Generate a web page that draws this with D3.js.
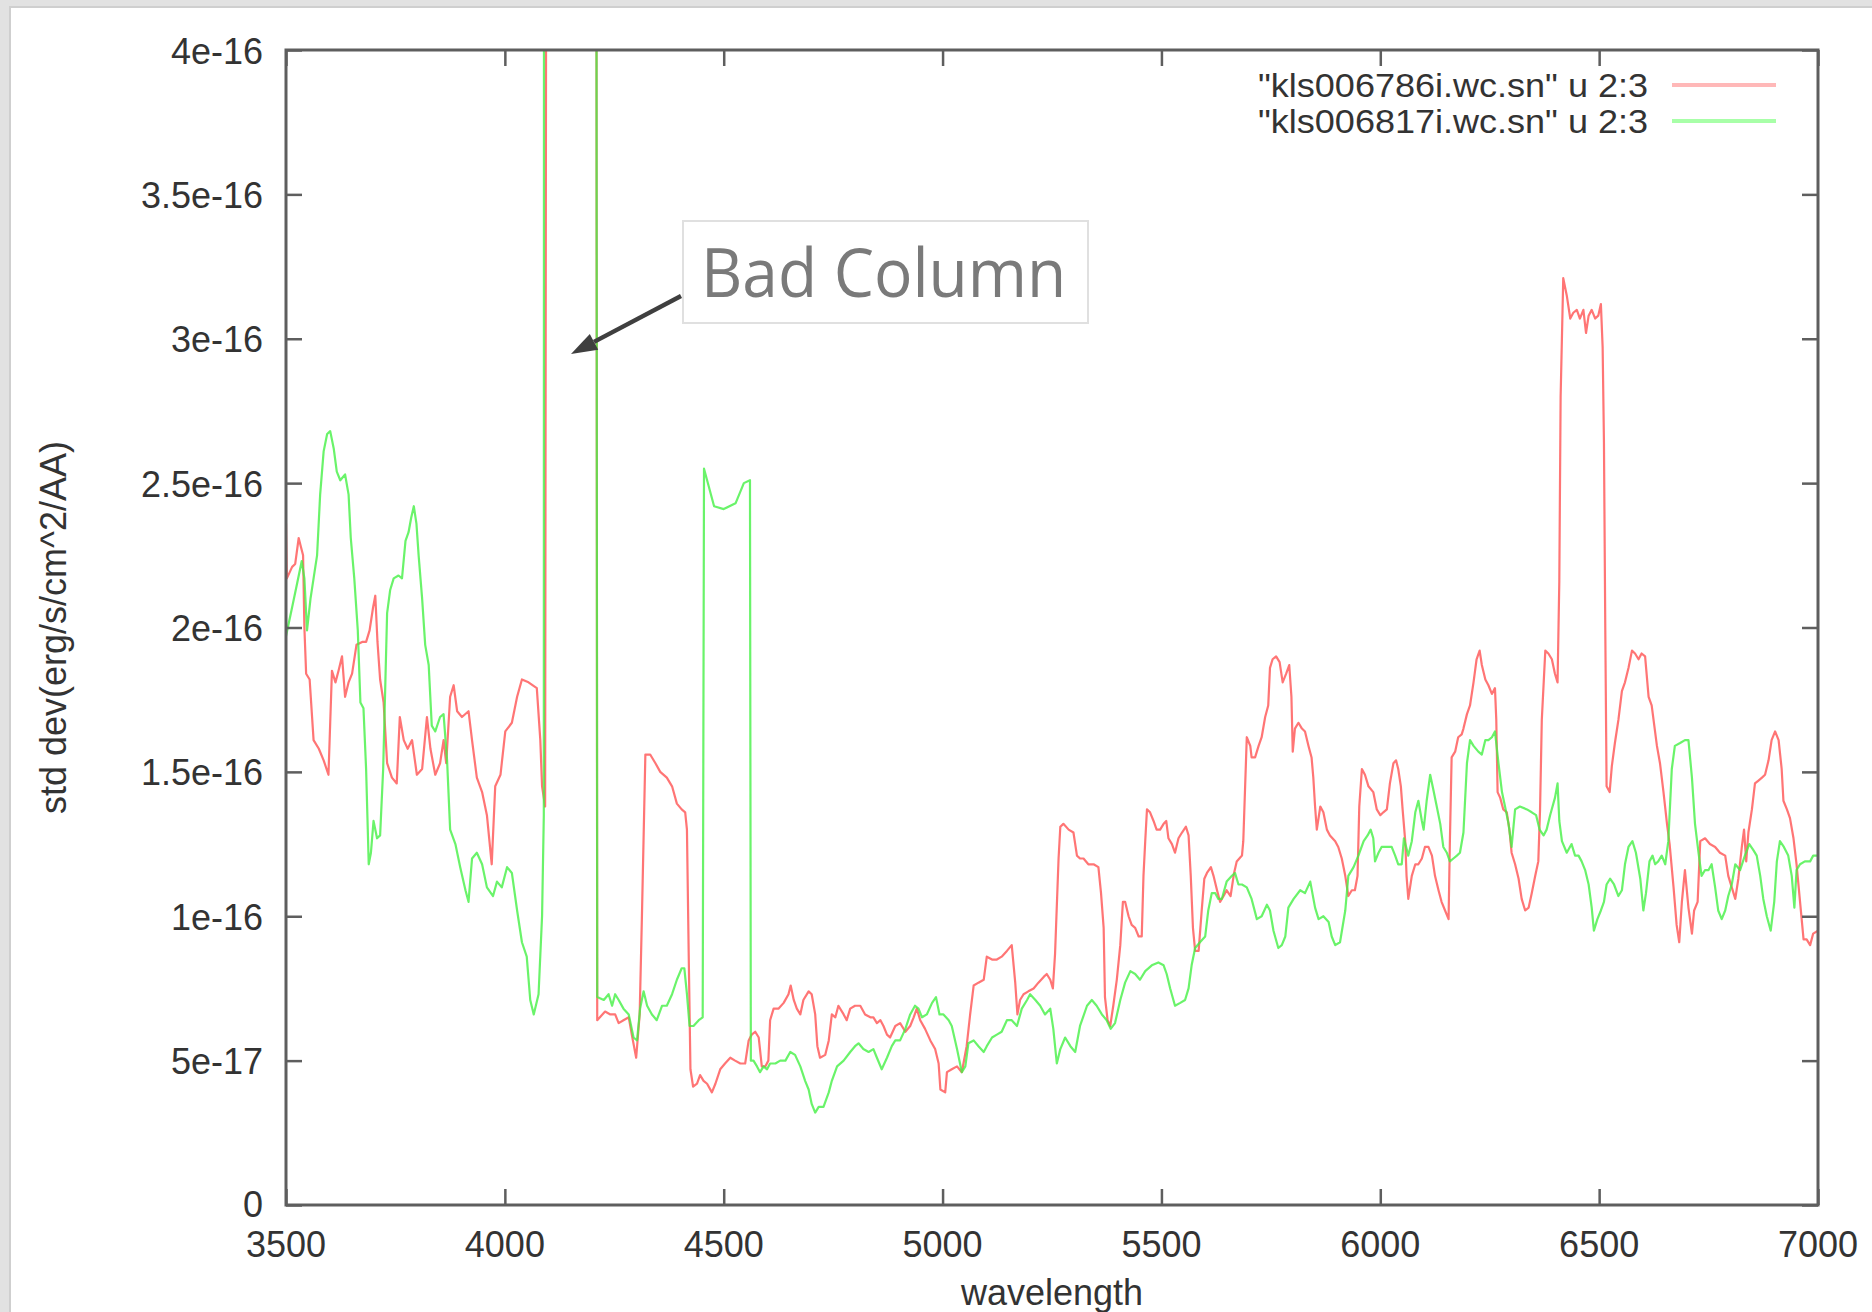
<!DOCTYPE html>
<html>
<head>
<meta charset="utf-8">
<script src="https://cdn.jsdelivr.net/npm/d3@7"></script>
<style>
  html, body { margin: 0; padding: 0; background: #e2e2e2; }
  svg { display: block; }
</style>
</head>
<body>
<div id="chart"></div>
<script>
// Données (flux en unités de 1e-16 erg/s/cm^2/AA)
const FLUX_UNIT = 1e-16;

const redWave = [3500,3502,3514,3521,3529,3534,3539,3542,3546,3554,3563,3575,3586,3597,3601,3605,3613,3620,3628,3635,3643,3651,3661,3674,3683,3691,3699,3704,3709,3715,3723,3731,3742,3753,3760,3769,3778,3788,3799,3811,3822,3830,3841,3852,3860,3866,3875,3883,3891,3902,3917,3925,3936,3948,3959,3970,3978,3990,4001,4016,4028,4039,4054,4073,4081,4085,4092,4098,4207,4211,4229,4241,4252,4260,4271,4283,4290,4300,4308,4313,4321,4332,4344,4355,4370,4382,4393,4404,4412,4416,4420,4424,4430,4439,4446,4454,4462,4473,4481,4492,4503,4515,4526,4538,4549,4557,4564,4572,4580,4587,4595,4602,4606,4614,4625,4637,4648,4653,4660,4667,4675,4682,4694,4701,4709,4714,4720,4732,4740,4747,4755,4762,4774,4781,4789,4800,4812,4823,4835,4842,4850,4858,4865,4873,4880,4892,4903,4915,4926,4934,4941,4949,4960,4972,4983,4991,4995,5006,5010,5021,5033,5044,5055,5063,5071,5082,5094,5101,5113,5124,5135,5147,5158,5166,5171,5177,5185,5196,5208,5219,5231,5238,5246,5252,5257,5265,5269,5276,5288,5299,5307,5314,5322,5333,5345,5356,5362,5368,5371,5377,5383,5390,5398,5406,5412,5417,5425,5432,5440,5448,5455,5459,5463,5467,5474,5482,5489,5497,5505,5511,5516,5524,5531,5539,5547,5556,5562,5567,5572,5577,5585,5592,5598,5604,5613,5619,5627,5634,5642,5649,5658,5666,5672,5684,5687,5691,5695,5703,5706,5714,5722,5729,5737,5744,5748,5754,5762,5770,5777,5785,5792,5797,5800,5805,5813,5821,5828,5836,5843,5847,5851,5855,5863,5870,5878,5885,5897,5904,5912,5920,5927,5935,5942,5948,5952,5958,5965,5973,5984,5992,6000,6007,6015,6022,6030,6036,6041,6047,6051,6057,6060,6064,6072,6080,6087,6095,6102,6110,6118,6125,6133,6140,6148,6156,6159,6163,6171,6178,6186,6190,6198,6205,6213,6220,6227,6232,6240,6247,6255,6262,6265,6268,6274,6281,6289,6295,6300,6308,6316,6323,6331,6339,6346,6354,6361,6365,6369,6377,6384,6392,6399,6405,6409,6412,6418,6426,6434,6441,6449,6456,6464,6470,6476,6483,6491,6498,6504,6508,6511,6514,6517,6524,6529,6536,6544,6552,6559,6567,6575,6582,6590,6597,6605,6613,6620,6632,6639,6647,6655,6661,6670,6677,6683,6689,6696,6704,6712,6717,6725,6731,6742,6753,6765,6776,6788,6795,6803,6811,6818,6826,6831,6836,6841,6849,6856,6864,6872,6879,6887,6894,6902,6910,6917,6921,6929,6936,6944,6951,6959,6967,6974,6982,6989,7000];
const redFlux = [2.36,2.17,2.21,2.22,2.31,2.28,2.25,2.00,1.84,1.82,1.61,1.58,1.54,1.49,1.67,1.85,1.81,1.85,1.90,1.76,1.81,1.84,1.94,1.95,1.95,1.99,2.07,2.11,1.95,1.82,1.74,1.53,1.48,1.46,1.69,1.61,1.58,1.61,1.49,1.51,1.69,1.58,1.49,1.53,1.61,1.53,1.76,1.80,1.71,1.69,1.71,1.61,1.48,1.43,1.35,1.18,1.45,1.49,1.64,1.67,1.76,1.82,1.81,1.79,1.61,1.45,1.38,9,9,0.64,0.67,0.66,0.66,0.63,0.64,0.65,0.59,0.51,0.66,0.99,1.56,1.56,1.53,1.50,1.48,1.45,1.39,1.37,1.36,1.30,0.87,0.47,0.41,0.42,0.45,0.43,0.42,0.39,0.42,0.47,0.49,0.51,0.50,0.49,0.49,0.57,0.59,0.60,0.58,0.48,0.48,0.50,0.64,0.68,0.68,0.70,0.73,0.76,0.71,0.68,0.66,0.71,0.74,0.73,0.66,0.55,0.51,0.52,0.57,0.66,0.65,0.69,0.66,0.64,0.68,0.69,0.69,0.66,0.65,0.65,0.63,0.64,0.62,0.59,0.58,0.62,0.63,0.60,0.62,0.65,0.68,0.64,0.61,0.57,0.54,0.49,0.40,0.39,0.46,0.47,0.48,0.46,0.55,0.66,0.76,0.77,0.78,0.86,0.85,0.85,0.86,0.88,0.90,0.77,0.66,0.71,0.73,0.74,0.75,0.77,0.79,0.80,0.78,0.75,0.87,1.20,1.31,1.32,1.30,1.29,1.21,1.20,1.20,1.18,1.18,1.17,1.08,0.96,0.72,0.64,0.62,0.69,0.78,0.90,1.05,1.05,1.00,0.97,0.96,0.93,0.93,1.14,1.26,1.37,1.36,1.33,1.30,1.30,1.32,1.33,1.27,1.25,1.22,1.27,1.29,1.31,1.28,1.14,0.96,0.88,0.88,1.02,1.13,1.15,1.17,1.14,1.09,1.05,1.07,1.09,1.07,1.15,1.19,1.21,1.26,1.44,1.62,1.59,1.55,1.55,1.59,1.62,1.69,1.73,1.86,1.89,1.90,1.88,1.81,1.84,1.87,1.76,1.57,1.65,1.67,1.65,1.64,1.59,1.55,1.48,1.38,1.30,1.38,1.36,1.30,1.28,1.26,1.24,1.20,1.14,1.07,1.09,1.09,1.14,1.38,1.51,1.49,1.45,1.43,1.37,1.35,1.36,1.37,1.46,1.53,1.54,1.51,1.45,1.37,1.26,1.14,1.06,1.14,1.18,1.18,1.20,1.24,1.24,1.21,1.14,1.09,1.05,1.02,0.99,1.26,1.55,1.57,1.62,1.63,1.65,1.70,1.73,1.81,1.89,1.92,1.87,1.82,1.80,1.77,1.79,1.68,1.43,1.41,1.37,1.36,1.30,1.22,1.18,1.13,1.06,1.02,1.03,1.08,1.14,1.19,1.37,1.68,1.92,1.91,1.89,1.84,1.81,2.16,2.80,3.21,3.15,3.07,3.09,3.10,3.07,3.10,3.02,3.08,3.10,3.07,3.08,3.12,2.97,2.64,2.00,1.45,1.43,1.52,1.60,1.68,1.78,1.81,1.86,1.92,1.91,1.89,1.91,1.90,1.76,1.73,1.59,1.53,1.43,1.32,1.25,1.10,0.97,0.91,1.05,1.16,1.03,0.94,1.02,1.05,1.26,1.27,1.25,1.24,1.22,1.21,1.14,1.10,1.06,1.13,1.24,1.30,1.19,1.29,1.37,1.46,1.47,1.48,1.49,1.54,1.61,1.64,1.61,1.51,1.40,1.37,1.34,1.27,1.18,1.05,0.92,0.92,0.90,0.94,0.95];

const greenWave = [3500,3514,3525,3536,3542,3548,3556,3563,3571,3578,3586,3594,3601,3609,3616,3624,3635,3643,3648,3656,3664,3670,3677,3683,3689,3694,3700,3708,3715,3722,3727,3731,3738,3746,3757,3765,3773,3780,3786,3792,3798,3803,3811,3818,3826,3833,3841,3852,3860,3868,3875,3887,3898,3910,3917,3925,3936,3948,3959,3973,3982,3993,4005,4016,4028,4039,4050,4058,4066,4077,4085,4089,4090,4207,4211,4226,4237,4245,4252,4260,4271,4283,4294,4302,4309,4317,4325,4336,4347,4359,4370,4382,4393,4404,4410,4416,4422,4431,4443,4452,4455,4478,4500,4527,4546,4560,4562,4568,4576,4583,4591,4599,4606,4618,4629,4641,4652,4663,4675,4686,4694,4701,4709,4717,4728,4740,4747,4759,4774,4789,4800,4808,4819,4831,4842,4850,4861,4873,4884,4892,4903,4915,4926,4937,4945,4953,4964,4976,4985,4993,5002,5014,5021,5033,5044,5052,5059,5071,5082,5094,5101,5113,5124,5135,5147,5158,5170,5181,5193,5200,5212,5223,5234,5246,5253,5261,5269,5280,5292,5303,5314,5330,5341,5352,5364,5375,5384,5394,5406,5417,5429,5440,5451,5463,5478,5493,5505,5512,5520,5531,5543,5554,5562,5569,5577,5588,5600,5607,5615,5623,5630,5638,5649,5661,5668,5676,5684,5695,5706,5718,5729,5741,5748,5756,5767,5775,5783,5790,5802,5817,5828,5840,5851,5859,5870,5882,5889,5897,5908,5920,5927,5939,5950,5962,5971,5978,5984,5988,5996,6003,6015,6026,6034,6041,6049,6054,6064,6072,6080,6087,6095,6099,6106,6114,6121,6129,6137,6144,6152,6159,6167,6175,6182,6190,6198,6205,6213,6224,6232,6240,6247,6255,6262,6270,6278,6285,6293,6300,6308,6319,6335,6346,6356,6364,6373,6380,6388,6399,6405,6409,6415,6426,6437,6445,6453,6460,6468,6476,6483,6488,6496,6504,6511,6517,6525,6534,6544,6552,6559,6567,6576,6584,6594,6601,6607,6615,6622,6628,6635,6643,6651,6658,6666,6673,6685,6696,6704,6712,6719,6727,6734,6742,6750,6757,6765,6772,6780,6788,6795,6803,6811,6822,6833,6843,6852,6860,6868,6875,6883,6892,6900,6906,6913,6922,6932,6940,6946,6951,6959,6970,6982,6989,7000];
const greenFlux = [1.97,2.07,2.15,2.23,2.17,1.99,2.10,2.17,2.25,2.46,2.61,2.67,2.68,2.62,2.54,2.51,2.53,2.46,2.31,2.17,1.99,1.74,1.72,1.51,1.18,1.22,1.33,1.27,1.28,1.51,1.81,2.05,2.13,2.17,2.18,2.17,2.30,2.33,2.38,2.42,2.36,2.25,2.10,1.94,1.87,1.66,1.64,1.69,1.70,1.54,1.30,1.25,1.17,1.09,1.05,1.20,1.22,1.18,1.10,1.07,1.12,1.10,1.17,1.15,1.02,0.91,0.86,0.71,0.66,0.73,1.00,1.35,9,9,0.72,0.71,0.73,0.69,0.73,0.71,0.68,0.66,0.58,0.57,0.68,0.74,0.69,0.66,0.64,0.69,0.69,0.73,0.78,0.82,0.82,0.73,0.62,0.62,0.64,0.65,2.55,2.42,2.41,2.43,2.50,2.51,0.50,0.50,0.48,0.46,0.48,0.47,0.49,0.49,0.50,0.50,0.53,0.52,0.48,0.43,0.40,0.35,0.32,0.34,0.34,0.39,0.43,0.48,0.50,0.53,0.55,0.56,0.54,0.53,0.54,0.51,0.47,0.51,0.55,0.57,0.57,0.61,0.66,0.69,0.68,0.65,0.66,0.70,0.72,0.66,0.66,0.64,0.62,0.54,0.46,0.48,0.56,0.57,0.55,0.53,0.55,0.58,0.59,0.60,0.64,0.64,0.62,0.68,0.71,0.73,0.71,0.69,0.66,0.68,0.61,0.49,0.54,0.58,0.55,0.53,0.62,0.69,0.71,0.69,0.66,0.64,0.61,0.63,0.71,0.77,0.81,0.80,0.78,0.81,0.83,0.84,0.83,0.80,0.75,0.69,0.70,0.71,0.75,0.83,0.89,0.91,0.93,1.02,1.08,1.08,1.06,1.06,1.12,1.14,1.15,1.11,1.11,1.10,1.06,0.99,1.00,1.04,1.02,0.95,0.89,0.90,0.93,1.03,1.06,1.09,1.08,1.12,1.03,0.99,1.00,0.98,0.93,0.90,0.91,1.02,1.14,1.17,1.21,1.26,1.28,1.30,1.27,1.19,1.22,1.24,1.24,1.24,1.21,1.18,1.18,1.27,1.21,1.26,1.36,1.40,1.33,1.30,1.40,1.49,1.44,1.38,1.32,1.24,1.22,1.19,1.20,1.21,1.22,1.29,1.53,1.61,1.59,1.57,1.56,1.61,1.61,1.62,1.64,1.53,1.43,1.38,1.32,1.24,1.37,1.38,1.37,1.36,1.35,1.30,1.28,1.30,1.35,1.41,1.46,1.33,1.26,1.22,1.25,1.21,1.21,1.19,1.16,1.11,1.03,0.95,0.99,1.02,1.05,1.11,1.13,1.11,1.07,1.09,1.18,1.24,1.26,1.22,1.13,1.02,1.08,1.19,1.21,1.18,1.19,1.21,1.18,1.26,1.51,1.59,1.60,1.61,1.61,1.48,1.32,1.22,1.14,1.16,1.16,1.18,1.10,1.02,0.99,1.02,1.07,1.11,1.18,1.16,1.21,1.25,1.23,1.21,1.14,1.06,1.00,0.95,1.05,1.19,1.26,1.24,1.21,1.14,1.03,1.16,1.18,1.19,1.19,1.21,1.21];

// Axes et libellés
const xTicks = [3500, 4000, 4500, 5000, 5500, 6000, 6500, 7000];
const yTicks = [0, 5e-17, 1e-16, 1.5e-16, 2e-16, 2.5e-16, 3e-16, 3.5e-16, 4e-16];
const yTickLabels = ["0", "5e-17", "1e-16", "1.5e-16", "2e-16", "2.5e-16", "3e-16", "3.5e-16", "4e-16"];
const seriesNames = ['"kls006786i.wc.sn" u 2:3', '"kls006817i.wc.sn" u 2:3'];

// Dimensions
const W = 1872, H = 1312;
const plot = { left: 286, right: 1818, top: 50, bottom: 1205 };
const FONT = '"Liberation Sans", Arial, Helvetica, sans-serif';
const STRETCH = 1.05; // texte un peu étiré verticalement dans l'original

const svg = d3.select("#chart").append("svg")
    .attr("width", W).attr("height", H);

// Fond gris + page blanche
svg.append("rect").attr("width", W).attr("height", H).attr("fill", "#e2e2e2");
svg.append("rect").attr("x", 9).attr("y", 6).attr("width", W).attr("height", H).attr("fill", "#cfcfcf");
svg.append("rect").attr("x", 11).attr("y", 8).attr("width", W).attr("height", H).attr("fill", "#ffffff");

const x = d3.scaleLinear().domain([3500, 7000]).range([plot.left, plot.right]);
const y = d3.scaleLinear().domain([0, 4e-16]).range([plot.bottom, plot.top]);

// Clip
svg.append("clipPath").attr("id", "clip")
    .append("rect")
    .attr("x", plot.left).attr("y", plot.top)
    .attr("width", plot.right - plot.left).attr("height", plot.bottom - plot.top);

// Courbes
const series = [
    { wave: redWave, flux: redFlux, color: "#ff5252", legend: "#ffb8b8" },
    { wave: greenWave, flux: greenFlux, color: "#45f045", legend: "#a8ffa8" }
];

const line = d3.line()
    .x(d => x(d[0]))
    .y(d => y(d[1] * FLUX_UNIT));

const gLines = svg.append("g").attr("clip-path", "url(#clip)");
series.forEach(s => {
    const pts = s.wave.map((w, i) => [w, s.flux[i]]);
    gLines.append("path")
        .datum(pts)
        .attr("d", line)
        .attr("fill", "none")
        .attr("stroke", s.color)
        .attr("stroke-width", 2.2)
        .attr("stroke-opacity", 0.8)
        .attr("stroke-linejoin", "round");
});

// Graduations (vers l'intérieur, sur les 4 côtés)
const tickLen = 16;
const axisColor = "#5e5e5e";
function styleAxis(g) {
    g.select(".domain").remove();
    g.selectAll(".tick line").attr("stroke", axisColor).attr("stroke-width", 2.5);
    g.selectAll(".tick text").remove();
}
svg.append("g").attr("transform", `translate(0,${plot.bottom})`)
    .call(d3.axisBottom(x).tickValues(xTicks).tickSizeInner(-tickLen).tickSizeOuter(0).tickFormat(""))
    .call(styleAxis);
svg.append("g").attr("transform", `translate(0,${plot.top})`)
    .call(d3.axisTop(x).tickValues(xTicks).tickSizeInner(-tickLen).tickSizeOuter(0).tickFormat(""))
    .call(styleAxis);
svg.append("g").attr("transform", `translate(${plot.left},0)`)
    .call(d3.axisLeft(y).tickValues(yTicks).tickSizeInner(-tickLen).tickSizeOuter(0).tickFormat(""))
    .call(styleAxis);
svg.append("g").attr("transform", `translate(${plot.right},0)`)
    .call(d3.axisRight(y).tickValues(yTicks).tickSizeInner(-tickLen).tickSizeOuter(0).tickFormat(""))
    .call(styleAxis);

// Cadre
svg.append("rect")
    .attr("x", plot.left).attr("y", plot.top)
    .attr("width", plot.right - plot.left).attr("height", plot.bottom - plot.top)
    .attr("fill", "none").attr("stroke", axisColor).attr("stroke-width", 3);

// Helper texte
function label(tx, ty, txt, anchor, opts = {}) {
    const stretch = opts.stretch || STRETCH;
    const t = svg.append("text")
        .attr("transform", `translate(${tx},${ty})${opts.rotate ? ` rotate(${opts.rotate})` : ""} scale(1,${stretch})`)
        .attr("text-anchor", anchor)
        .attr("dy", opts.dy || "0")
        .attr("font-family", opts.family || FONT)
        .attr("font-size", opts.size || 36)
        .attr("fill", opts.fill || "#333333")
        .text(txt);
    if (opts.length) t.attr("textLength", opts.length).attr("lengthAdjust", "spacingAndGlyphs");
    return t;
}

// Libellés des axes
xTicks.forEach(t => label(x(t), 1243, t, "middle", { dy: "0.36em" }));
yTicks.forEach((t, i) => label(263, y(t) - (t === 0 ? 2 : 0), yTickLabels[i], "end", { dy: "0.36em" }));

label((plot.left + plot.right) / 2, 1305, "wavelength", "middle");
label(52, (plot.top + plot.bottom) / 2, "std dev(erg/s/cm^2/AA)", "middle", { rotate: -90, dy: "0.36em" });

// Légende
series.forEach((s, i) => {
    const ly = 85 + i * 36;
    label(1648, ly, seriesNames[i], "end", { dy: "0.36em", size: 33, stretch: 1.0, length: 390 });
    svg.append("line")
        .attr("x1", 1672).attr("x2", 1776)
        .attr("y1", ly).attr("y2", ly)
        .attr("stroke", s.legend).attr("stroke-width", 4);
});

// Annotation "Bad Column"
const arrowFrom = [681, 296], arrowTo = [571, 354];
const ang = Math.atan2(arrowTo[1] - arrowFrom[1], arrowTo[0] - arrowFrom[0]);
const headLen = 26, headW = 9;
const base = [arrowTo[0] - headLen * Math.cos(ang), arrowTo[1] - headLen * Math.sin(ang)];
svg.append("line")
    .attr("x1", arrowFrom[0]).attr("y1", arrowFrom[1])
    .attr("x2", base[0]).attr("y2", base[1])
    .attr("stroke", "#3f3f3f").attr("stroke-width", 4.5);
svg.append("path")
    .attr("d", d3.line()([
        arrowTo,
        [base[0] + headW * Math.sin(ang), base[1] - headW * Math.cos(ang)],
        [base[0] - headW * Math.sin(ang), base[1] + headW * Math.cos(ang)]
    ]) + "Z")
    .attr("fill", "#3f3f3f");

svg.append("rect")
    .attr("x", 683).attr("y", 221).attr("width", 405).attr("height", 102)
    .attr("fill", "#ffffff").attr("stroke", "#e0e0e0").attr("stroke-width", 2);
label(701, 297, "Bad Column", "start", { family: '"Open Sans", "DejaVu Sans", sans-serif', size: 64, fill: "#7a7a7a" });
</script>
</body>
</html>
